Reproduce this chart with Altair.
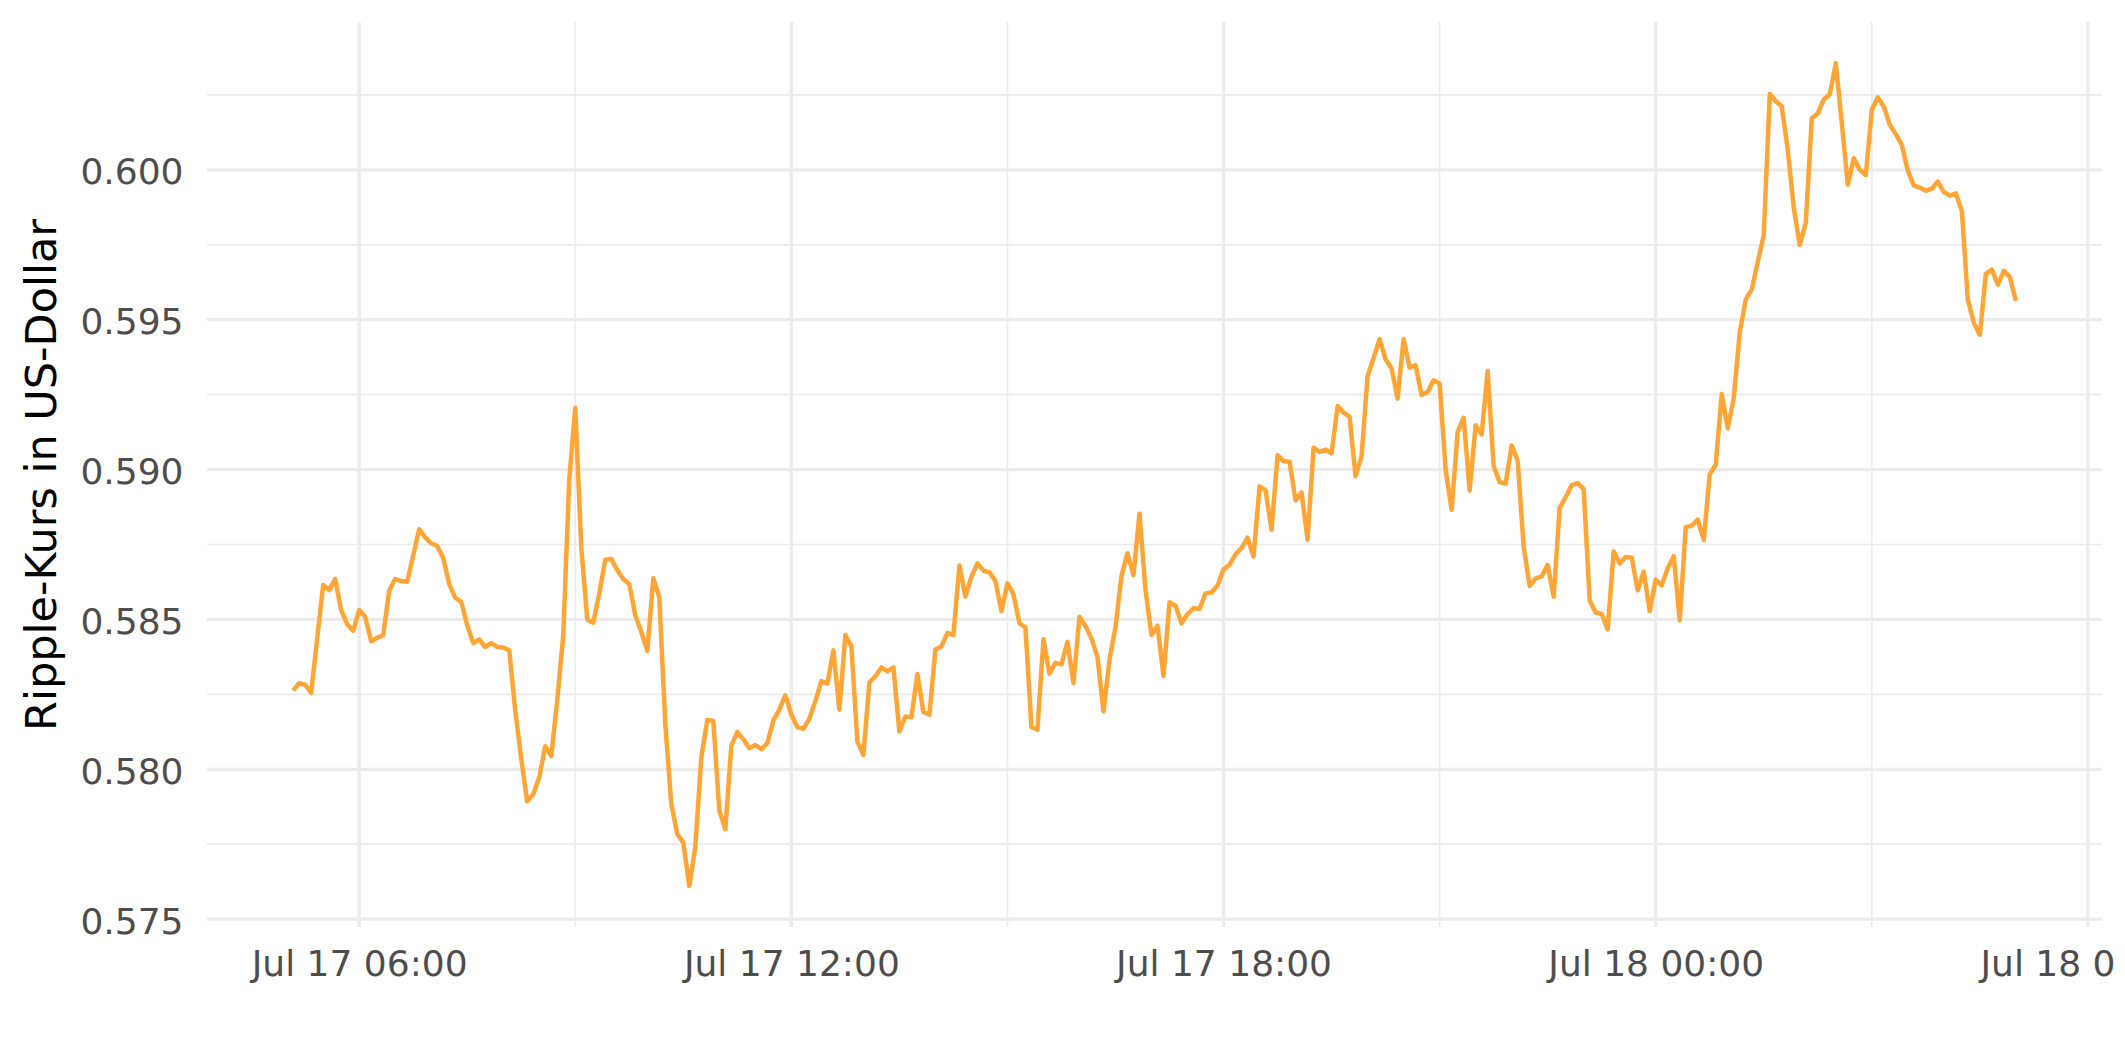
import altair as alt
import pandas as pd

# ---- data (5-minute XRP prices) ----
start_time = "2024-07-17 05:05"
price = [
    0.58263, 0.58287, 0.58282, 0.58255, 0.58435, 0.58615, 0.58598, 0.58635, 0.58531, 0.58484,
    0.58462, 0.58531, 0.58509, 0.58427, 0.58439, 0.58447, 0.58596, 0.58635, 0.58628, 0.58626,
    0.58713, 0.58801, 0.58774, 0.58754, 0.58745, 0.58704, 0.58618, 0.58573, 0.58559, 0.58481,
    0.58421, 0.58433, 0.58408, 0.58421, 0.58408, 0.58406, 0.58397, 0.58196, 0.58035, 0.57893,
    0.57917, 0.57973, 0.58077, 0.58044, 0.58230, 0.58448, 0.58967, 0.59206, 0.58743, 0.58500,
    0.58489, 0.58587, 0.58699, 0.58702, 0.58665, 0.58635, 0.58618, 0.58514, 0.58459, 0.58395,
    0.58637, 0.58574, 0.58152, 0.57884, 0.57784, 0.57755, 0.57611, 0.57740, 0.58040, 0.58165,
    0.58161, 0.57862, 0.57800, 0.58079, 0.58124, 0.58100, 0.58070, 0.58081, 0.58067, 0.58087,
    0.58163, 0.58199, 0.58247, 0.58182, 0.58141, 0.58135, 0.58169, 0.58227, 0.58294, 0.58286,
    0.58397, 0.58199, 0.58448, 0.58411, 0.58093, 0.58048, 0.58290, 0.58310, 0.58340, 0.58327,
    0.58340, 0.58126, 0.58176, 0.58174, 0.58318, 0.58191, 0.58182, 0.58400, 0.58410, 0.58455,
    0.58448, 0.58680, 0.58576, 0.58643, 0.58687, 0.58663, 0.58657, 0.58628, 0.58528, 0.58621,
    0.58584, 0.58487, 0.58473, 0.58141, 0.58132, 0.58434, 0.58319, 0.58355, 0.58350, 0.58425,
    0.58288, 0.58509, 0.58478, 0.58436, 0.58375, 0.58193, 0.58364, 0.58475, 0.58645, 0.58721,
    0.58648, 0.58853, 0.58598, 0.58448, 0.58479, 0.58311, 0.58557, 0.58546, 0.58487, 0.58518,
    0.58537, 0.58535, 0.58587, 0.58590, 0.58613, 0.58667, 0.58682, 0.58718, 0.58738, 0.58773,
    0.58710, 0.58944, 0.58931, 0.58799, 0.59048, 0.59028, 0.59026, 0.58897, 0.58924, 0.58766,
    0.59073, 0.59059, 0.59067, 0.59054, 0.59212, 0.59190, 0.59176, 0.58978, 0.59045, 0.59312,
    0.59372, 0.59435, 0.59368, 0.59337, 0.59237, 0.59435, 0.59340, 0.59348, 0.59249, 0.59259,
    0.59298, 0.59287, 0.59000, 0.58866, 0.59125, 0.59173, 0.58930, 0.59148, 0.59117, 0.59329,
    0.59011, 0.58958, 0.58953, 0.59080, 0.59030, 0.58743, 0.58612, 0.58637, 0.58643, 0.58682,
    0.58576, 0.58872, 0.58908, 0.58948, 0.58955, 0.58935, 0.58563, 0.58523, 0.58518, 0.58467,
    0.58727, 0.58687, 0.58708, 0.58706, 0.58597, 0.58659, 0.58528, 0.58633, 0.58614, 0.58671,
    0.58711, 0.58497, 0.58808, 0.58812, 0.58833, 0.58765, 0.58984, 0.59016, 0.59252, 0.59138,
    0.59239, 0.59458, 0.59568, 0.59601, 0.59693, 0.59782, 0.60253, 0.60229, 0.60212, 0.60066,
    0.59872, 0.59750, 0.59823, 0.60172, 0.60188, 0.60235, 0.60252, 0.60356, 0.60156, 0.59950,
    0.60039, 0.60000, 0.59983, 0.60200, 0.60242, 0.60211, 0.60150, 0.60119, 0.60083, 0.59997,
    0.59948, 0.59941, 0.59930, 0.59937, 0.59961, 0.59926, 0.59914, 0.59922, 0.59863, 0.59567,
    0.59489, 0.59450, 0.59653, 0.59667, 0.59617, 0.59663, 0.59642, 0.59563,
]

y_major = [0.575, 0.580, 0.585, 0.590, 0.595, 0.600]
y_minor = [0.5775, 0.5825, 0.5875, 0.5925, 0.5975, 0.6025]
x_major = ["2024-07-17T06:00:00", "2024-07-17T12:00:00", "2024-07-17T18:00:00",
           "2024-07-18T00:00:00", "2024-07-18T06:00:00"]
x_minor = ["2024-07-17T09:00:00", "2024-07-17T15:00:00", "2024-07-17T21:00:00",
           "2024-07-18T03:00:00"]

times = pd.date_range(start_time, periods=len(price), freq="5min")
df = pd.DataFrame({"time": times.strftime("%Y-%m-%dT%H:%M:%S"), "price": price})

x_scale = alt.Scale(domain=[
    alt.DateTime(year=2024, month=7, date=17, hours=3, minutes=53, seconds=15),
    alt.DateTime(year=2024, month=7, date=18, hours=6, minutes=11, seconds=45),
])
y_scale = alt.Scale(domain=[0.574738, 0.604933], zero=False, nice=False)

x_axis = alt.Axis(
    values=[alt.DateTime(year=2024, month=7, date=17, hours=6),
            alt.DateTime(year=2024, month=7, date=17, hours=12),
            alt.DateTime(year=2024, month=7, date=17, hours=18),
            alt.DateTime(year=2024, month=7, date=18, hours=0),
            alt.DateTime(year=2024, month=7, date=18, hours=6)],
    format="%b %d %H:%M", grid=False, ticks=False, tickSize=0, domain=False,
    labelFont="DejaVu Sans", labelFontSize=36, labelColor="#4D4D4D",
    labelPadding=20, labelFlush=False, labelOverlap=False, labelLimit=600, title=None,
)
y_axis = alt.Axis(
    values=y_major, format=".3f", grid=False, ticks=False, tickSize=0, domain=False,
    labelFont="DejaVu Sans", labelFontSize=36, labelColor="#4D4D4D",
    labelPadding=24, labelOffset=3, labelLimit=600,
    title="Ripple-Kurs in US-Dollar", titleFont="DejaVu Sans", titleFontSize=43,
    titleFontWeight="normal", titleColor="#000000", titlePadding=15,
)

grid_color = "#EBEBEB"

ymaj = alt.Chart(pd.DataFrame({"v": y_major})).mark_rule(
    color=grid_color, strokeWidth=3.3).encode(y=alt.Y("v:Q", scale=y_scale, axis=y_axis))
ymin = alt.Chart(pd.DataFrame({"v": y_minor})).mark_rule(
    color=grid_color, strokeWidth=1.7).encode(y=alt.Y("v:Q", scale=y_scale, axis=y_axis))
xmaj = alt.Chart(pd.DataFrame({"t": x_major})).mark_rule(
    color=grid_color, strokeWidth=3.3).encode(x=alt.X("t:T", scale=x_scale, axis=x_axis))
xmin = alt.Chart(pd.DataFrame({"t": x_minor})).mark_rule(
    color=grid_color, strokeWidth=1.7).encode(x=alt.X("t:T", scale=x_scale, axis=x_axis))

line = alt.Chart(df).mark_line(
    color="#FFA535", strokeWidth=4.5, strokeJoin="round", clip=True
).encode(
    x=alt.X("time:T", scale=x_scale, axis=x_axis),
    y=alt.Y("price:Q", scale=y_scale, axis=y_axis),
)

chart = alt.layer(ymin, xmin, ymaj, xmaj, line).properties(
    width=1895, height=905,
    padding={"left": 199, "top": 14, "right": 15, "bottom": 127},
    autosize=alt.AutoSizeParams(type="none"),
    background="#FFFFFF",
).configure_view(stroke=None)

chart.save("out.html", embed_options={"renderer": "svg", "actions": False})
